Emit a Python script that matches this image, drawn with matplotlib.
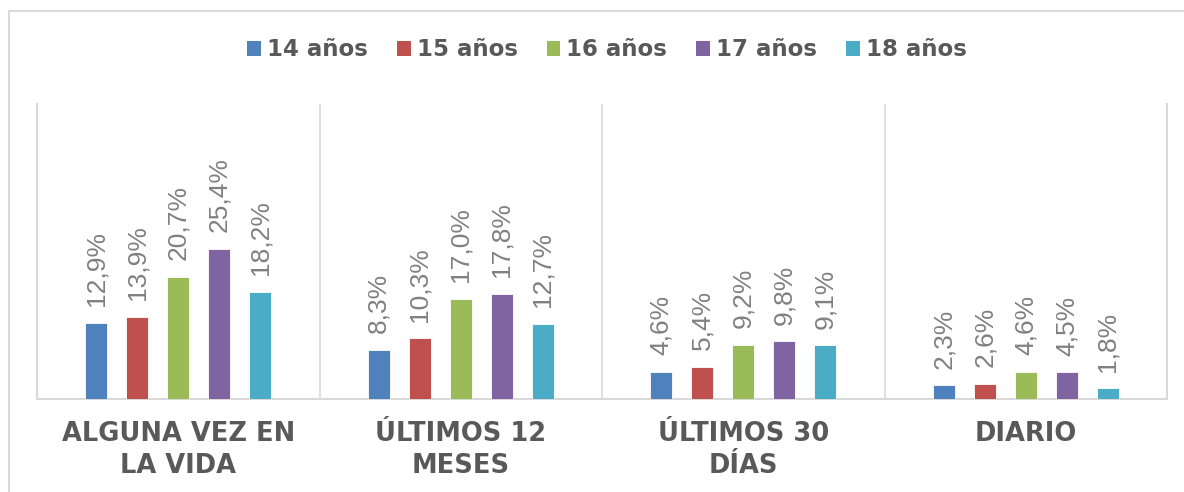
import matplotlib
matplotlib.use("Agg")
import matplotlib.pyplot as plt
from matplotlib.patches import Patch
from matplotlib.lines import Line2D
import numpy as np

categories = ["ALGUNA VEZ EN\nLA VIDA", "ÚLTIMOS 12\nMESES", "ÚLTIMOS 30\nDÍAS", "DIARIO"]
series_names = ["14 años", "15 años", "16 años", "17 años", "18 años"]
values_14 = [12.9, 8.3, 4.6, 2.3]
values_15 = [13.9, 10.3, 5.4, 2.6]
values_16 = [20.7, 17.0, 9.2, 4.6]
values_17 = [25.4, 17.8, 9.8, 4.5]
values_18 = [18.2, 12.7, 9.1, 1.8]
colors = ["#4F81BD", "#C0504D", "#9BBB59", "#8064A2", "#4BACC6"]

series = [values_14, values_15, values_16, values_17, values_18]

fig = plt.figure(figsize=(11.84, 4.92), dpi=100)
fig.patch.set_facecolor("white")

# outer frame (cropped at right and bottom)
fx = 8.5 / 1184
fy = 1 - 10.5 / 492
fig.add_artist(Line2D([fx, 1.01], [fy, fy], transform=fig.transFigure,
                      color="#D9D9D9", lw=1.5))
fig.add_artist(Line2D([fx, fx], [-0.01, fy], transform=fig.transFigure,
                      color="#D9D9D9", lw=1.5))

ax = fig.add_axes([37 / 1184, 1 - 399 / 492, (1167 - 37) / 1184, (399 - 104) / 492])
x = np.arange(len(categories))
step = 0.145
width = 0.078
for i, (vals, col) in enumerate(zip(series, colors)):
    pos = x + (i - 2) * step
    ax.bar(pos, vals, width=width, color=col, edgecolor="white", linewidth=0.6, zorder=3)
    for px, v in zip(pos, vals):
        ax.annotate(f"{v:.1f}".replace(".", ",") + "%", (px, v), xytext=(0, 12),
                    textcoords="offset points", rotation=90, ha="center", va="bottom",
                    fontsize=19, color="#808080", family="Liberation Sans")

ax.set_xlim(-0.5, 3.5)
ax.set_ylim(0, 50)
ax.set_yticks([])
ax.set_xticks(x)
ax.set_xticklabels(categories, fontsize=18.5, fontweight="bold", color="#595959",
                   family="DejaVu Sans", linespacing=1.3)
ax.tick_params(axis="x", length=0, pad=16)
for xb in [0.5, 1.5, 2.5]:
    ax.axvline(xb, color="#D9D9D9", lw=1.2, zorder=1)
for s in ["left", "right", "bottom"]:
    ax.spines[s].set_color("#D9D9D9")
    ax.spines[s].set_linewidth(1.5)
ax.spines["top"].set_visible(False)

handles = [Patch(facecolor=c, edgecolor="none") for c in colors]
fig.legend(handles, series_names, loc="center", bbox_to_anchor=(607 / 1184, 1 - 50 / 492),
           ncol=5, frameon=False, handlelength=0.6, handleheight=0.6, handletextpad=0.26,
           columnspacing=1.27, prop={"family": "DejaVu Sans", "weight": "bold", "size": 16.5},
           labelcolor="#595959")

fig.savefig("out.png", dpi=100, facecolor="white")
